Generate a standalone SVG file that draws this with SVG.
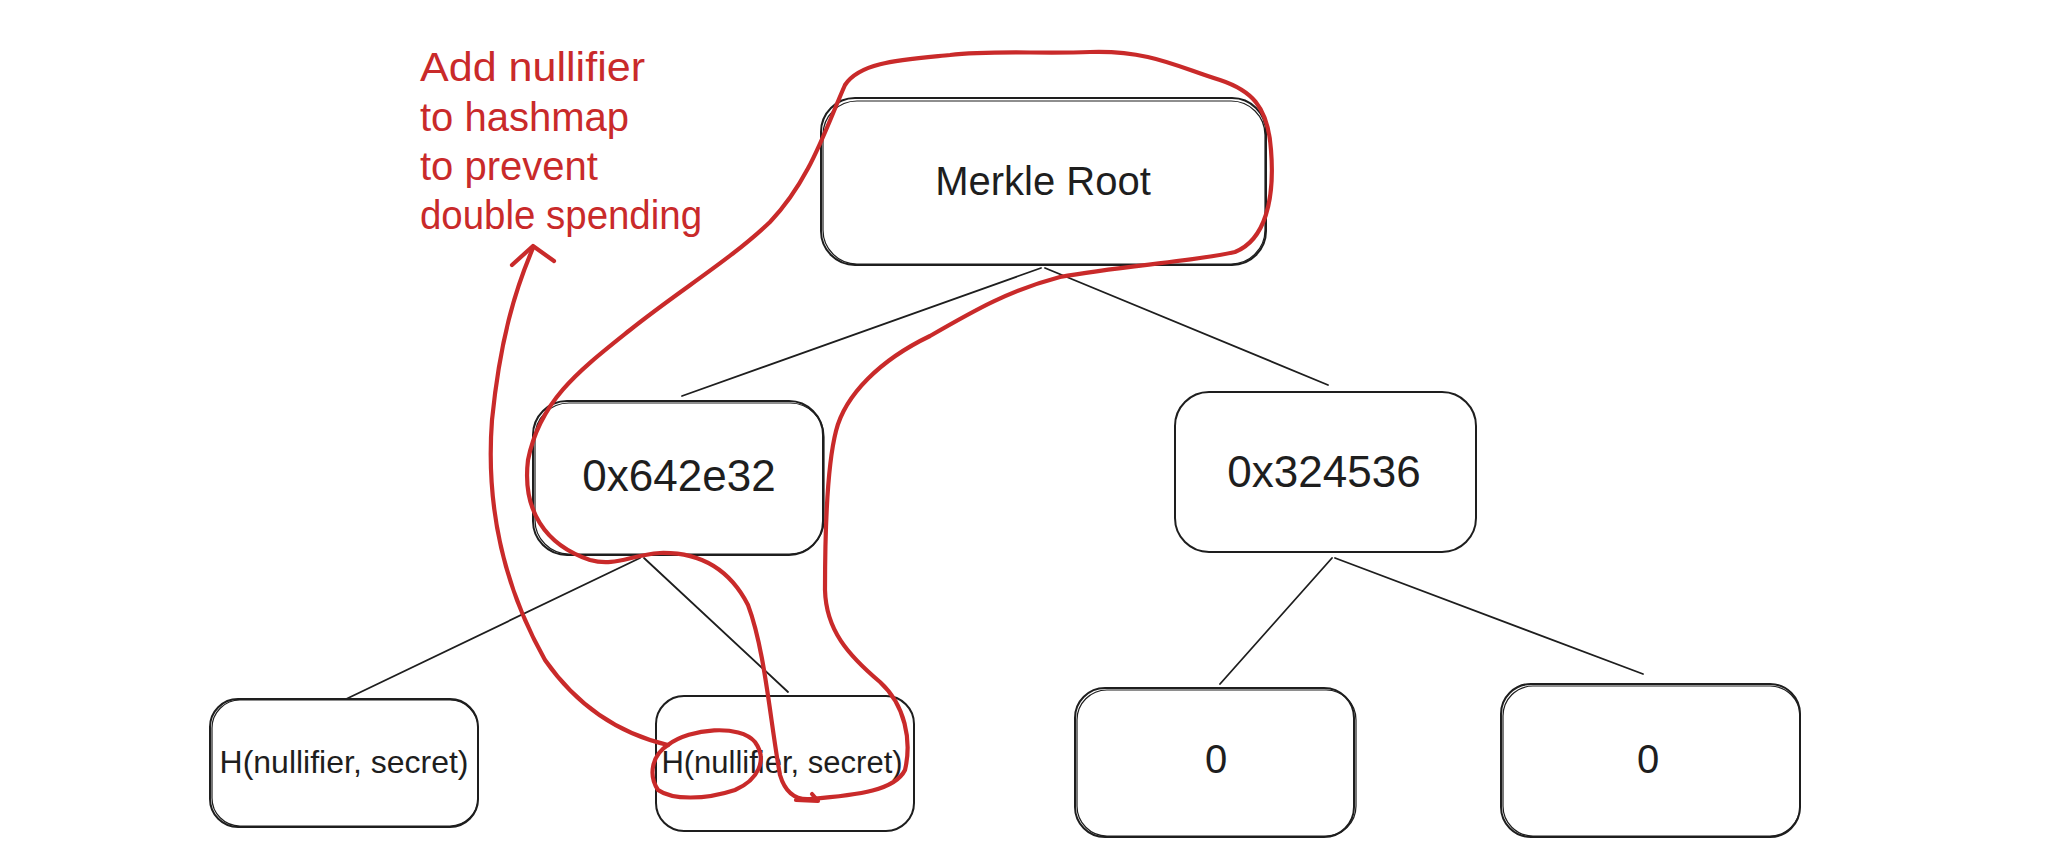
<svg xmlns="http://www.w3.org/2000/svg" width="2048" height="857" viewBox="0 0 2048 857">
<style>
.box{fill:#ffffff;stroke:#1e1e1e;stroke-width:2}
.box2{fill:none;stroke:#1e1e1e;stroke-width:1.2}
.lbl{font-family:"Liberation Sans",Arial,sans-serif;fill:#1e1e1e;text-anchor:middle}
.edge{stroke:#1e1e1e;stroke-width:1.8;fill:none;stroke-linecap:round}
.red{stroke:#c92a2a;stroke-width:4.2;fill:none;stroke-linecap:round;stroke-linejoin:round}
.note{font-family:"Liberation Sans",Arial,sans-serif;fill:#c92a2a;font-size:40px}
</style>
<rect width="2048" height="857" fill="#ffffff"/>
<g id="connectors">
<line class="edge" x1="1041" y1="268" x2="682" y2="396"/>
<line class="edge" x1="1045" y1="268" x2="1328" y2="385"/>
<line class="edge" x1="640" y1="558" x2="342" y2="701"/>
<line class="edge" x1="644" y1="558" x2="788" y2="692"/>
<line class="edge" x1="1332" y1="558" x2="1220" y2="684"/>
<line class="edge" x1="1335" y1="558" x2="1643" y2="674"/>
</g>
<g id="node-root">
<rect class="box" x="821" y="98" width="445" height="167" rx="34"/>
<rect class="box2" x="823" y="101" width="442" height="163" rx="34"/>
<text class="lbl" x="1043" y="195" font-size="40">Merkle Root</text>
</g>
<g id="node-left">
<rect class="box" x="533" y="401" width="290" height="154" rx="34"/>
<rect class="box2" x="535" y="403" width="289" height="151" rx="34"/>
<text class="lbl" x="679" y="491" font-size="44">0x642e32</text>
</g>
<g id="node-right">
<rect class="box" x="1175" y="392" width="301" height="160" rx="34"/>
<text class="lbl" x="1324" y="487" font-size="44">0x324536</text>
</g>
<g id="node-h1">
<rect class="box" x="210" y="699" width="268" height="128" rx="28"/>
<rect class="box2" x="212" y="700" width="266" height="126" rx="28"/>
<text class="lbl" x="344" y="773" font-size="32">H(nullifier, secret)</text>
</g>
<g id="node-h2">
<rect class="box" x="656" y="696" width="258" height="135" rx="28"/>
<text class="lbl" x="782" y="773" font-size="31">H(nullifier, secret)</text>
</g>
<g id="node-z1">
<rect class="box" x="1075" y="688" width="279" height="149" rx="30"/>
<rect class="box2" x="1077" y="690" width="279" height="146" rx="30"/>
<text class="lbl" x="1216" y="773" font-size="40">0</text>
</g>
<g id="node-z2">
<rect class="box" x="1501" y="684" width="299" height="153" rx="30"/>
<rect class="box2" x="1503" y="686" width="297" height="150" rx="30"/>
<text class="lbl" x="1648" y="773" font-size="40">0</text>
</g>
<g id="annotation">
<text class="note" x="420" y="81" textLength="225" lengthAdjust="spacingAndGlyphs">Add nullifier</text>
<text class="note" x="420" y="131">to hashmap</text>
<text class="note" x="420" y="180">to prevent</text>
<text class="note" x="420" y="229" textLength="282" lengthAdjust="spacingAndGlyphs">double spending</text>
<path class="red" d="M533,248 C515,290 500,340 492,420 C486,500 500,580 545,660 C580,710 625,735 668,745"/>
<polyline class="red" points="512,265 533,246 554,261"/>
<path class="red" d="M668,745 C690,728 740,724 755,742 C768,760 758,780 735,790 C705,800 672,800 658,790 C648,775 652,755 668,745"/>
<path class="red" d="M810,799 C860,795 895,790 905,770 C912,740 905,705 880,682 C848,655 826,630 825,590 C825,540 826,470 836,431 C845,395 880,360 930,336 C975,310 1010,290 1060,277 C1120,266 1190,262 1235,252 C1265,240 1275,200 1271,150 C1268,105 1250,90 1220,80 C1180,68 1150,50 1090,52 C1040,54 990,50 950,55 C900,60 860,62 845,85 C825,130 810,180 770,222 C730,260 680,290 630,330 C580,370 540,400 528,460 C522,510 545,545 590,560 C615,567 630,555 660,553 C700,552 730,570 748,605 C765,650 770,720 780,775 C786,795 798,800 810,799"/>
<path class="red" stroke-width="6" d="M796,800 L818,801 L812,794"/>
</g>
</svg>
